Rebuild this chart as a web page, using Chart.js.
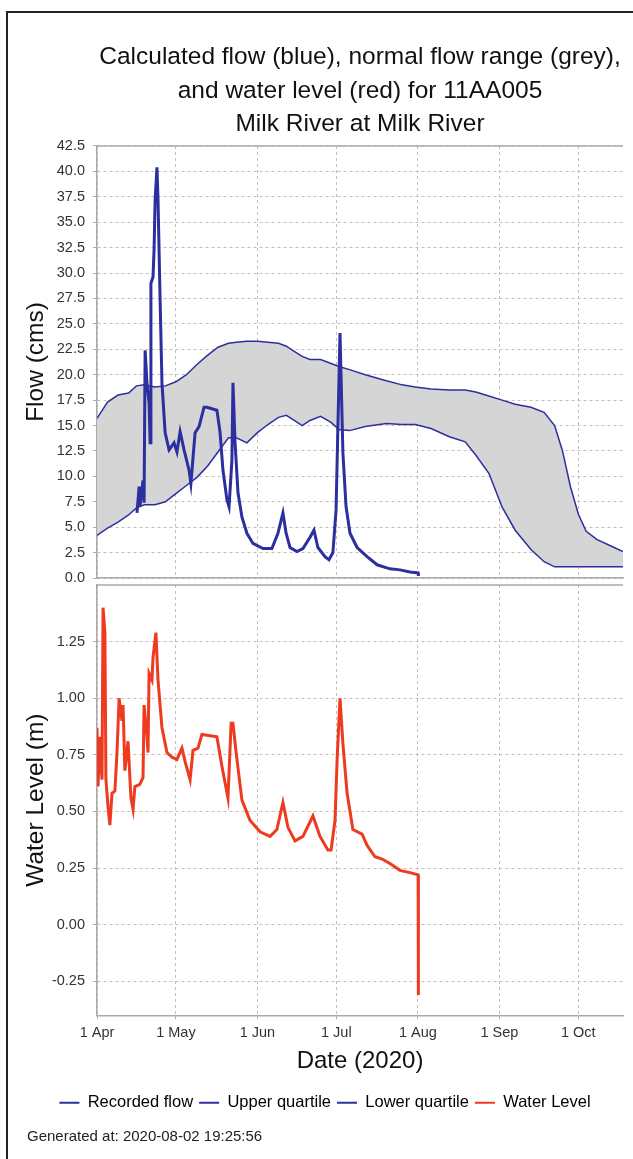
<!DOCTYPE html>
<html>
<head>
<meta charset="utf-8">
<title>11AA005 Milk River at Milk River</title>
<script src="https://cdn.jsdelivr.net/npm/chart.js@4.4.1/dist/chart.umd.min.js"></script>
<style>
  html, body { margin: 0; padding: 0; background: #fff; overflow: hidden; }
  #frame { position: absolute; left: 6px; top: 11px; width: 700px; height: 1300px; border: 2px solid #222; }
  canvas { position: absolute; left: 0; }
  #flow { top: 0; }
  #level { top: 568px; }
</style>
</head>
<body>
<div id="frame"></div>
<canvas id="flow" width="633" height="595"></canvas>
<canvas id="level" width="633" height="584"></canvas>
<script>
// x values are days since 1 Apr 2020
const monthDays = [0, 30, 61, 91, 122, 153, 183]
const monthLabels = ["1 Apr", "1 May", "1 Jun", "1 Jul", "1 Aug", "1 Sep", "1 Oct"]
const flowTicks = [0, 2.5, 5, 7.5, 10, 12.5, 15, 17.5, 20, 22.5, 25, 27.5, 30, 32.5, 35, 37.5, 40, 42.5]
const levelTicks = [-0.25, 0, 0.25, 0.5, 0.75, 1, 1.25]

const flowDays = [15.2, 16.0, 16.3, 17.5, 17.9, 18.3, 19.0, 19.8, 20.2, 20.5, 21.3, 21.7, 22.1, 22.8, 23.2,
  24.0, 24.7, 25.9, 27.4, 29.3, 30.4, 31.6, 33.1, 35.0, 35.7, 37.3, 38.8, 40.7, 41.8, 45.6, 46.8, 47.9,
  49.4, 50.2, 51.3, 51.7, 52.5, 53.6, 55.1, 57.0, 59.3, 63.1, 66.5, 68.8, 70.7, 71.9, 73.4, 76.0, 78.3,
  81.0, 82.5, 84.0, 86.7, 88.2, 89.7, 90.9, 91.6, 92.4, 93.5, 94.7, 96.2, 98.9, 102.7, 106.5, 111.4,
  115.2, 119.0, 122.1, 122.2]
const flowValues = [6.4, 9.0, 7.0, 9.6, 7.4, 22.4, 19.2, 17.2, 13.3, 29.0, 29.6, 32.3, 37.2, 40.4, 37.2,
  27.3, 19.2, 14.3, 12.6, 13.3, 12.4, 14.4, 12.6, 10.6, 9.3, 14.3, 14.9, 16.8, 16.8, 16.5, 14.3, 10.6,
  7.7, 7.0, 11.6, 19.2, 13.3, 8.4, 6.0, 4.4, 3.4, 2.9, 2.9, 4.4, 6.4, 4.4, 3.0, 2.6, 2.9,
  4.0, 4.7, 3.0, 2.1, 1.8, 2.5, 6.7, 14.9, 24.1, 12.3, 7.0, 4.4, 3.0, 2.1, 1.3, 0.9,
  0.8, 0.6, 0.5, 0.2]

const quartileDays = [0, 4, 8, 12, 15, 18, 22, 26, 30, 34, 38, 42, 46, 50, 53, 57, 61, 65, 69, 72, 75, 78,
  81, 85, 89, 92, 96, 102, 110, 116, 121, 127, 134, 140, 144, 149, 154, 159, 165, 170, 174, 177, 180,
  183, 186, 190, 195, 200]
const upperQuartile = [15.7, 17.3, 18.0, 18.2, 18.9, 19.0, 18.8, 18.9, 19.3, 20.0, 21.0, 21.9, 22.7, 23.1,
  23.2, 23.3, 23.3, 23.2, 23.1, 22.8, 22.3, 21.8, 21.5, 21.5, 21.1, 20.8, 20.5, 20.0, 19.4, 19.0, 18.8,
  18.6, 18.5, 18.5, 18.3, 17.9, 17.5, 17.1, 16.8, 16.3, 15.0, 12.5, 9.0, 6.3, 4.6, 3.8, 3.2, 2.6]
const lowerQuartile = [4.2, 4.9, 5.5, 6.2, 6.9, 7.2, 7.2, 7.5, 8.3, 9.1, 9.9, 11.0, 12.4, 13.8, 13.8, 13.3,
  14.3, 15.1, 15.8, 16.0, 15.5, 15.0, 15.5, 15.9, 15.3, 14.6, 14.5, 14.9, 15.2, 15.1, 15.1, 14.7, 13.9,
  13.4, 12.1, 10.3, 7.0, 4.7, 2.8, 1.6, 1.1, 1.1, 1.1, 1.1, 1.1, 1.1, 1.1, 1.1]

const levelDays = [0, 0.4, 1.1, 1.9, 2.3, 3.0, 3.4, 4.2, 4.9, 5.7, 6.8, 7.6, 8.4, 9.5, 9.9, 10.6, 11.8,
  12.9, 13.7, 14.4, 16.3, 17.5, 17.9, 19.0, 19.4, 19.8, 20.9, 21.3, 22.4, 23.2, 24.7, 26.6, 28.5, 30.4,
  32.3, 33.5, 35.4, 36.5, 38.4, 39.9, 45.6, 47.5, 49.8, 51.0, 51.7, 52.9, 55.1, 58.2, 62.0, 65.8, 68.4,
  70.7, 72.6, 75.3, 78.3, 82.1, 84.8, 87.8, 89.0, 90.5, 91.3, 92.4, 93.5, 95.1, 97.3, 100.8, 102.7,
  105.7, 108.4, 111.4, 115.2, 119.0, 122.1, 122.2]
const levelValues = [0.87, 0.61, 0.83, 0.64, 1.40, 1.29, 0.64, 0.52, 0.44, 0.58, 0.59, 0.76, 1.00, 0.90,
  0.97, 0.68, 0.81, 0.56, 0.51, 0.61, 0.62, 0.65, 0.97, 0.83, 0.76, 1.11, 1.08, 1.18, 1.29, 1.08, 0.87,
  0.76, 0.74, 0.73, 0.78, 0.72, 0.64, 0.77, 0.78, 0.84, 0.83, 0.70, 0.56, 0.89, 0.89, 0.76, 0.55, 0.46,
  0.41, 0.39, 0.42, 0.54, 0.43, 0.37, 0.39, 0.48, 0.39, 0.33, 0.33, 0.46, 0.73, 1.00, 0.80, 0.58, 0.42,
  0.40, 0.35, 0.30, 0.29, 0.27, 0.24, 0.23, 0.22, -0.31]

const blue = "#2b2f9f"
const red = "#ee3a1f"
const gridColor = "#c9bdb3"
const axisColor = "#aaaaaa"

const pts = (xs, ys) => xs.map((x, i) => ({ x, y: ys[i] }))

Chart.defaults.font.family = '"Liberation Sans", Arial, sans-serif'
Chart.defaults.color = "#222"

// top edge of each plot box
const plotTop = {
  id: "plotTop",
  afterDraw(chart) {
    const { ctx, chartArea: a } = chart
    ctx.save()
    ctx.strokeStyle = axisColor
    ctx.lineWidth = 1.5
    ctx.beginPath()
    ctx.moveTo(a.left, a.top)
    ctx.lineTo(a.right, a.top)
    ctx.stroke()
    ctx.restore()
  }
}

function dateAxis(showLabels) {
  return {
    type: "linear",
    min: 0,
    max: 200,
    afterBuildTicks: s => { s.ticks = monthDays.map(v => ({ value: v })) },
    afterFit: s => { if (!showLabels) s.height = 0 },
    grid: { color: gridColor, drawTicks: showLabels, tickLength: 4, tickColor: axisColor },
    border: { color: axisColor, width: 1.5, dash: [3, 3] },
    ticks: {
      display: showLabels, padding: 5, maxRotation: 0, autoSkip: false,
      font: { size: 14.5 }, color: "#333",
      callback: v => monthLabels[monthDays.indexOf(v)]
    },
    title: { display: showLabels, text: "Date (2020)", font: { size: 24 }, color: "#111", padding: { top: 0, bottom: 13 } }
  }
}

function valueAxis(title, min, max, ticks, digits) {
  return {
    type: "linear",
    min,
    max,
    afterBuildTicks: s => { s.ticks = ticks.map(v => ({ value: v })) },
    afterFit: s => { s.width = 70 },
    grid: { color: gridColor, tickLength: 4, tickColor: axisColor },
    border: { color: axisColor, width: 1.5, dash: [3, 3] },
    ticks: { padding: 8, autoSkip: false, font: { size: 14.5 }, color: "#333", callback: v => v.toFixed(digits) },
    title: { display: true, text: title, font: { size: 24.5 }, color: "#111", padding: { top: -5, bottom: 0 } }
  }
}

const flowChart = new Chart(document.getElementById("flow"), {
  type: "line",
  data: {
    datasets: [
      { label: "Recorded flow", data: pts(flowDays, flowValues), borderColor: blue, borderWidth: 3, pointRadius: 0, fill: false },
      { label: "Upper quartile", data: pts(quartileDays, upperQuartile), borderColor: blue, borderWidth: 1.5, pointRadius: 0, fill: false },
      { label: "Lower quartile", data: pts(quartileDays, lowerQuartile), borderColor: blue, borderWidth: 1.5, pointRadius: 0, fill: "-1", backgroundColor: "#d5d5d5" }
    ]
  },
  options: {
    responsive: false,
    animation: false,
    events: [],
    layout: { padding: { left: 27, right: 10, top: 0, bottom: 17 } },
    plugins: {
      legend: { display: false },
      tooltip: { enabled: false },
      title: {
        display: true,
        fullSize: false,
        text: ["Calculated flow (blue), normal flow range (grey),", "and water level (red) for 11AA005", "Milk River at Milk River"],
        font: { size: 24.5, weight: "normal", lineHeight: 1.367 },
        color: "#111",
        padding: { top: 41, bottom: 4.5 }
      }
    },
    scales: { x: dateAxis(false), y: valueAxis("Flow (cms)", 0, 42.5, flowTicks, 1) }
  },
  plugins: [plotTop]
})

new Chart(document.getElementById("level"), {
  type: "line",
  data: {
    datasets: [
      { label: "Water Level", data: pts(levelDays, levelValues), borderColor: red, borderWidth: 3, pointRadius: 0, fill: false }
    ]
  },
  options: {
    responsive: false,
    animation: false,
    events: [],
    layout: { padding: { left: 27, right: 10, top: 17, bottom: 2 } },
    plugins: {
      tooltip: { enabled: false },
      legend: {
        position: "bottom",
        labels: {
          boxWidth: 20, boxHeight: 2, padding: 6, font: { size: 16.5 }, color: "#222",
          generateLabels: chart => flowChart.data.datasets.concat(chart.data.datasets).map(ds => ({
            text: ds.label, fillStyle: ds.borderColor, strokeStyle: ds.borderColor, lineWidth: 0, hidden: false
          }))
        }
      },
      subtitle: {
        display: true,
        position: "bottom",
        align: "start",
        text: "Generated at: 2020-08-02 19:25:56",
        font: { size: 15 },
        color: "#222",
        padding: { top: 7, bottom: 4 }
      }
    },
    scales: { x: dateAxis(true), y: valueAxis("Water Level (m)", -0.4, 1.5, levelTicks, 2) }
  },
  plugins: [plotTop]
})
</script>
</body>
</html>
